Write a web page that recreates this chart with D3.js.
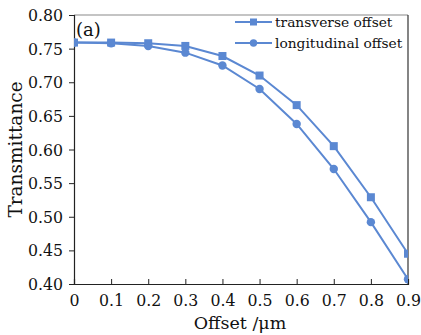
<!DOCTYPE html>
<html><head><meta charset="utf-8">
<script src="https://cdn.jsdelivr.net/npm/d3@7"></script>
<style>body{margin:0;background:#fff}svg{display:block}</style>
</head><body>
<script>
const offsets = [0, 0.1, 0.2, 0.3, 0.4, 0.5, 0.6, 0.7, 0.8, 0.9];
const transverse = [0.759, 0.759, 0.758, 0.754, 0.739, 0.710, 0.666, 0.605, 0.529, 0.445];
const longitudinal = [0.759, 0.758, 0.754, 0.744, 0.725, 0.690, 0.638, 0.571, 0.492, 0.407];
const yTicks = [0.40, 0.45, 0.50, 0.55, 0.60, 0.65, 0.70, 0.75, 0.80];
const xTicks = [0, 0.1, 0.2, 0.3, 0.4, 0.5, 0.6, 0.7, 0.8, 0.9];
const seriesNames = ["transverse offset", "longitudinal offset"];

const W = 421, H = 335;
const m = {left: 74, right: 13, top: 15, bottom: 51};
const color = "#5b88d2";
const font = "'DejaVu Serif', serif";
const condFont = "'DejaVu Serif Condensed', 'DejaVu Serif', serif";

const svg = d3.select("body").append("svg").attr("width", W).attr("height", H);
const x = d3.scaleLinear().domain([0, 0.9]).range([m.left, W - m.right]);
const y = d3.scaleLinear().domain([0.40, 0.80]).range([H - m.bottom, m.top]);

svg.append("defs").append("clipPath").attr("id", "clip")
  .append("rect").attr("x", m.left).attr("y", m.top)
  .attr("width", W - m.right - m.left).attr("height", H - m.bottom - m.top);

// frame top/right
svg.append("line").attr("x1", m.left).attr("x2", W - m.right).attr("y1", m.top).attr("y2", m.top)
  .attr("stroke", "#8a8a8a").attr("stroke-width", 1.2);
svg.append("line").attr("x1", W - m.right).attr("x2", W - m.right).attr("y1", m.top).attr("y2", H - m.bottom)
  .attr("stroke", "#333").attr("stroke-width", 1.2);

// axes
const yAxis = svg.append("g").attr("transform", `translate(${m.left},0)`)
  .call(d3.axisLeft(y).tickValues(yTicks).tickFormat(d3.format(".2f")).tickSize(5).tickPadding(6));
const xAxis = svg.append("g").attr("transform", `translate(0,${H - m.bottom})`)
  .call(d3.axisBottom(x).tickValues(xTicks).tickFormat(d => d === 0 ? "0" : d3.format(".1f")(d)).tickSize(-5).tickPadding(10));
[yAxis, xAxis].forEach(g => {
  g.select(".domain").attr("stroke", "#222").attr("stroke-width", 1.2);
  g.selectAll(".tick line").attr("stroke", "#222").attr("stroke-width", 1);
  g.selectAll("text").attr("font-family", condFont).attr("font-stretch", "condensed")
    .attr("font-size", 17.5).attr("fill", "#111");
});
xAxis.selectAll(".tick text").attr("dy", "0.71em");

// lines
const plot = svg.append("g").attr("clip-path", "url(#clip)");
const line = d3.line().x(d => x(d[0])).y(d => y(d[1]));
const sets = [transverse, longitudinal];
sets.forEach((vals, i) => {
  const pts = offsets.map((o, j) => [o, vals[j]]);
  plot.append("path").datum(pts).attr("d", line).attr("fill", "none")
    .attr("stroke", color).attr("stroke-width", 2);
  if (i === 0) {
    plot.selectAll(null).data(pts).join("rect")
      .attr("x", d => x(d[0]) - 4).attr("y", d => y(d[1]) - 4)
      .attr("width", 8).attr("height", 8).attr("fill", color);
  } else {
    plot.selectAll(null).data(pts).join("circle")
      .attr("cx", d => x(d[0])).attr("cy", d => y(d[1])).attr("r", 4.2).attr("fill", color);
  }
});

// legend
const lg = svg.append("g");
seriesNames.forEach((name, i) => {
  const ly = 22 + i * 21;
  lg.append("line").attr("x1", 235).attr("x2", 272).attr("y1", ly).attr("y2", ly)
    .attr("stroke", color).attr("stroke-width", 2);
  if (i === 0) lg.append("rect").attr("x", 250).attr("y", ly - 3.5).attr("width", 7).attr("height", 7).attr("fill", color);
  else lg.append("circle").attr("cx", 253.5).attr("cy", ly).attr("r", 3.7).attr("fill", color);
  lg.append("text").attr("x", 275).attr("y", ly).attr("dy", "0.33em")
    .attr("font-family", font).attr("font-size", 13.8).attr("fill", "#111").text(name);
});

// panel label
svg.append("text").attr("x", 76).attr("y", 36).attr("font-family", font).attr("font-size", 18)
  .attr("fill", "#111").text("(a)");

// axis titles
svg.append("text").attr("transform", `translate(22,${(m.top + H - m.bottom) / 2}) rotate(-90)`)
  .attr("text-anchor", "middle").attr("font-family", font).attr("font-size", 18.5).attr("fill", "#111")
  .text("Transmittance");
svg.append("text").attr("x", 240).attr("y", 329)
  .attr("text-anchor", "middle").attr("font-family", font).attr("font-size", 17.5).attr("fill", "#111")
  .text("Offset /μm");
</script>
</body></html>
